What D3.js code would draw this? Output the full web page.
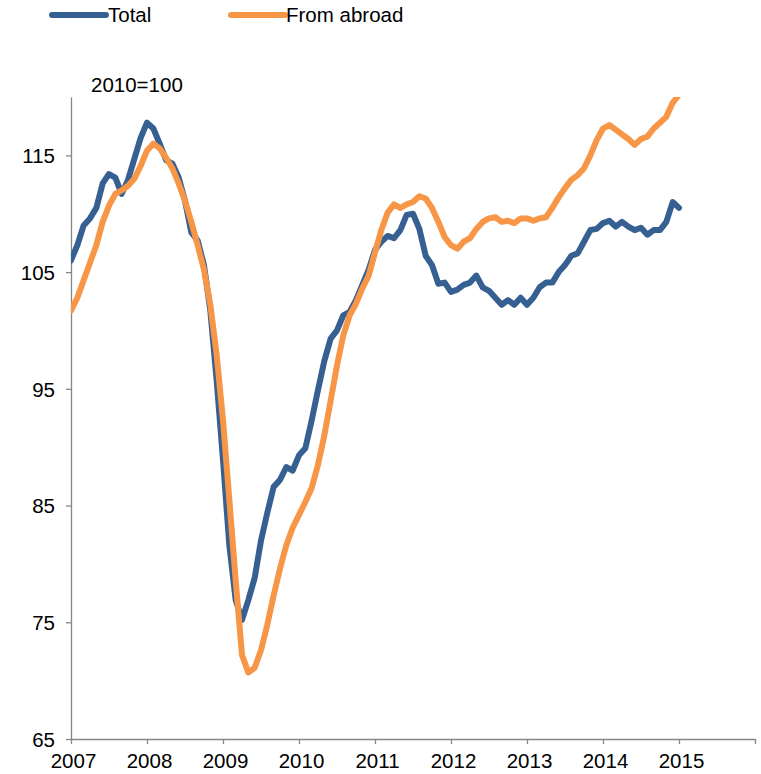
<!DOCTYPE html>
<html><head><meta charset="utf-8">
<script src="https://cdn.jsdelivr.net/npm/d3@7"></script>
<style>body{margin:0;background:#fff}svg{display:block}text{font-family:"Liberation Sans",Arial,sans-serif;fill:#000}</style>
</head><body>
<svg id="c" width="761" height="774"></svg>
<script>
const startYear = 2007;
const yearTicks = [2007,2008,2009,2010,2011,2012,2013,2014,2015,2016];
const yearLabels = ["2007","2008","2009","2010","2011","2012","2013","2014","2015"];
const valueTicks = [65,75,85,95,105,115];
const seriesNames = ["Total","From abroad"];
const total = [106.0,107.3,109.0,109.6,110.5,112.6,113.4,113.1,111.7,112.9,114.7,116.5,
117.8,117.3,116.0,114.6,114.3,113.1,111.1,108.4,107.7,105.6,101.7,95.7,
88.9,81.6,76.9,75.2,76.9,78.8,82.0,84.4,86.6,87.2,88.3,88.0,
89.3,89.9,92.3,94.9,97.4,99.3,100.0,101.3,101.6,102.6,103.9,105.2,
106.9,107.6,108.1,107.9,108.6,109.9,110.0,108.7,106.4,105.6,104.0,104.1,
103.3,103.5,103.9,104.1,104.7,103.7,103.4,102.8,102.2,102.6,102.2,102.8,
102.2,102.8,103.7,104.1,104.1,105.0,105.6,106.4,106.6,107.6,108.6,108.7,
109.2,109.4,108.9,109.3,108.9,108.6,108.8,108.2,108.6,108.6,109.3,111.0,
110.5];
const fromAbroad = [101.7,102.8,104.3,105.8,107.3,109.3,110.7,111.7,112.0,112.4,113.0,114.1,
115.4,116.0,115.6,114.8,113.9,112.6,111.1,109.3,107.3,105.2,102.2,97.9,
92.3,85.5,78.6,72.2,70.7,71.1,72.6,74.8,77.3,79.6,81.6,83.1,
84.2,85.3,86.5,88.5,91.0,94.0,97.0,99.6,101.3,102.3,103.6,104.7,
106.7,108.6,110.1,110.8,110.5,110.8,111.0,111.5,111.3,110.5,109.3,108.0,
107.3,107.0,107.6,107.9,108.7,109.3,109.6,109.7,109.3,109.4,109.2,109.6,
109.6,109.4,109.6,109.7,110.5,111.4,112.2,112.9,113.3,113.9,115.0,116.3,
117.3,117.6,117.2,116.8,116.4,115.9,116.4,116.6,117.3,117.8,118.3,119.5,
120.2];
const colors = ["#376092","#f79646"];

const svg = d3.select("#c");
const mLeft = 71, mRight = 755, mTop = 97, mBottom = 739;
const x = d3.scaleLinear().domain([2007,2016]).range([mLeft,mRight]);
const y = d3.scaleLinear().domain([65,120]).range([mBottom,mTop]);
const mx = i => x(startYear + i/12);

svg.append("defs").append("clipPath").attr("id","clip")
  .append("rect").attr("x",mLeft).attr("y",mTop).attr("width",mRight-mLeft+10).attr("height",mBottom-mTop);

const yAxis = svg.append("g").attr("transform",`translate(${mLeft},0)`)
  .call(d3.axisLeft(y).tickValues(valueTicks).tickSize(5).tickSizeOuter(0).tickPadding(11));
const xAxis = svg.append("g").attr("transform",`translate(0,${mBottom})`)
  .call(d3.axisBottom(x).tickValues(yearTicks).tickSize(5).tickSizeOuter(0).tickPadding(3)
    .tickFormat(d => yearLabels.includes(String(d)) ? String(d) : ""));
[yAxis,xAxis].forEach(g=>{
  g.selectAll("path.domain").attr("stroke","#868686").attr("stroke-width",1.3);
  g.selectAll(".tick line").attr("stroke","#868686").attr("stroke-width",1.3);
  g.selectAll("text").style("font-size","20.5px").attr("fill","#000")
    .style("font-family",'"Liberation Sans",Arial,sans-serif');
});
xAxis.selectAll("text").attr("y",0).attr("dy",0).attr("transform","translate(2,29)");
yAxis.selectAll("text").attr("dy","0.35em");

svg.append("text").attr("x",91).attr("y",92).style("font-size","20.5px").text("2010=100");

const line = d3.line().x((d,i)=>mx(i)).y(d=>y(d)).curve(d3.curveLinear);
const g = svg.append("g").attr("clip-path","url(#clip)");
[total, fromAbroad].forEach((s,k)=>{
  g.append("path").datum(s).attr("d",line).attr("fill","none")
    .attr("stroke",colors[k]).attr("stroke-width",6)
    .attr("stroke-linejoin","round").attr("stroke-linecap","round");
});

const leg = [{x:52,tx:108},{x:231,tx:286}];
seriesNames.forEach((n,k)=>{
  svg.append("line").attr("x1",leg[k].x).attr("x2",leg[k].x+54).attr("y1",15).attr("y2",15)
    .attr("stroke",colors[k]).attr("stroke-width",6).attr("stroke-linecap","round");
  svg.append("text").attr("x",leg[k].tx).attr("y",22).style("font-size","20.5px").text(n);
});
</script>
</body></html>
